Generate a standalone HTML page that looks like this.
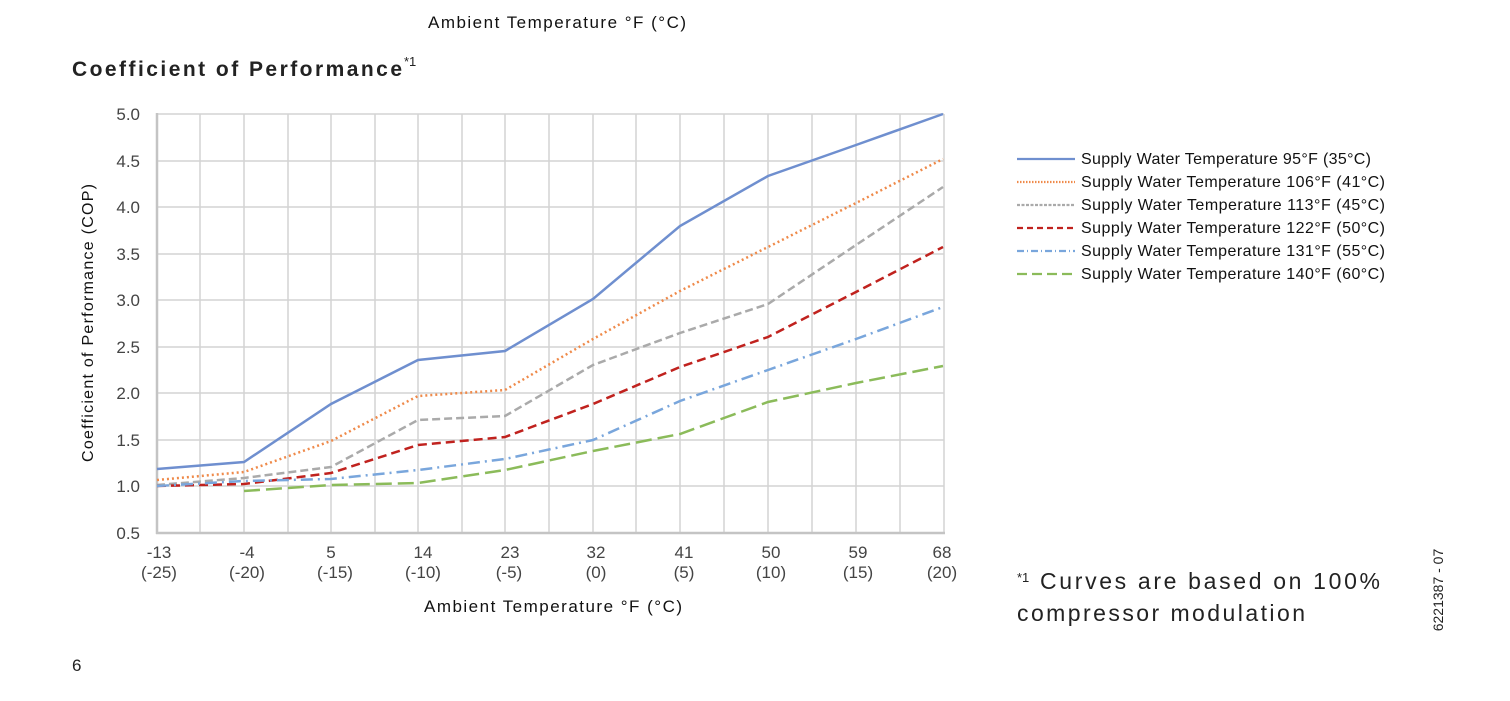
<!DOCTYPE html>
<html><head><meta charset="utf-8"><style>
body{margin:0;background:#fff;width:1510px;height:696px;overflow:hidden;font-family:"Liberation Sans",sans-serif;}
svg text{font-family:"Liberation Sans",sans-serif;}
</style></head><body>
<svg width="1510" height="696" xmlns="http://www.w3.org/2000/svg">
<text x="428" y="28" font-size="17" textLength="258" fill="#111">Ambient Temperature °F (°C)</text>
<text x="72" y="76" font-size="21" font-weight="bold" fill="#222" textLength="330">Coefficient of Performance</text>
<text x="404" y="66" font-size="13" fill="#222">*1</text>
<g stroke="#d4d4d4" stroke-width="1.5">
<line x1="157" y1="114" x2="944" y2="114"/><line x1="157" y1="161" x2="944" y2="161"/><line x1="157" y1="207" x2="944" y2="207"/><line x1="157" y1="254" x2="944" y2="254"/><line x1="157" y1="300" x2="944" y2="300"/><line x1="157" y1="347" x2="944" y2="347"/><line x1="157" y1="393" x2="944" y2="393"/><line x1="157" y1="440" x2="944" y2="440"/><line x1="157" y1="486" x2="944" y2="486"/>
<line x1="200" y1="114" x2="200" y2="533"/><line x1="244" y1="114" x2="244" y2="533"/><line x1="288" y1="114" x2="288" y2="533"/><line x1="331" y1="114" x2="331" y2="533"/><line x1="375" y1="114" x2="375" y2="533"/><line x1="418" y1="114" x2="418" y2="533"/><line x1="462" y1="114" x2="462" y2="533"/><line x1="505" y1="114" x2="505" y2="533"/><line x1="549" y1="114" x2="549" y2="533"/><line x1="593" y1="114" x2="593" y2="533"/><line x1="636" y1="114" x2="636" y2="533"/><line x1="680" y1="114" x2="680" y2="533"/><line x1="724" y1="114" x2="724" y2="533"/><line x1="768" y1="114" x2="768" y2="533"/><line x1="812" y1="114" x2="812" y2="533"/><line x1="856" y1="114" x2="856" y2="533"/><line x1="900" y1="114" x2="900" y2="533"/><line x1="944" y1="114" x2="944" y2="533"/>
</g>
<g stroke="#c4c4c4" stroke-width="2.5"><line x1="157" y1="113" x2="157" y2="534"/><line x1="156" y1="533" x2="945" y2="533"/></g>
<g font-size="17" fill="#444" text-anchor="end">
<text x="140" y="120">5.0</text><text x="140" y="167">4.5</text><text x="140" y="213">4.0</text><text x="140" y="260">3.5</text><text x="140" y="306">3.0</text><text x="140" y="353">2.5</text><text x="140" y="399">2.0</text><text x="140" y="446">1.5</text><text x="140" y="492">1.0</text><text x="140" y="539">0.5</text>
</g>
<g font-size="17" fill="#444" text-anchor="middle">
<text x="159" y="558">-13</text><text x="159" y="578">(-25)</text>
<text x="247" y="558">-4</text><text x="247" y="578">(-20)</text>
<text x="331" y="558">5</text><text x="335" y="578">(-15)</text>
<text x="423" y="558">14</text><text x="423" y="578">(-10)</text>
<text x="510" y="558">23</text><text x="509" y="578">(-5)</text>
<text x="596" y="558">32</text><text x="596" y="578">(0)</text>
<text x="684" y="558">41</text><text x="684" y="578">(5)</text>
<text x="771" y="558">50</text><text x="771" y="578">(10)</text>
<text x="858" y="558">59</text><text x="858" y="578">(15)</text>
<text x="942" y="558">68</text><text x="942" y="578">(20)</text>
</g>
<text x="424" y="612" font-size="17" textLength="258" fill="#111">Ambient Temperature °F (°C)</text>
<text transform="translate(93,323) rotate(-90)" font-size="16" text-anchor="middle" fill="#111" textLength="278">Coefficient of Performance (COP)</text>
<g fill="none" stroke-width="2.5">
<polyline stroke="#6f8fcf" points="157,469 244,462 331,404 418,360 505,351 593,299 680,226 768,176 856,145 943,114"/>
<polyline stroke="#ef8a4a" stroke-dasharray="2 3" points="157,480 244,472 331,441 418,396 505,390 593,339 680,291 768,247 856,203 943,159"/>
<polyline stroke="#aaaaaa" stroke-dasharray="8 4" points="157,485 244,478 331,467 418,420 505,416 593,365 680,333 768,304 856,245 943,187"/>
<polyline stroke="#c0221e" stroke-dasharray="9 5" points="157,486 244,484 331,473 418,445 505,437 593,404 680,367 768,337 856,292 943,247"/>
<polyline stroke="#79a6dc" stroke-dasharray="12 5 2 5" points="157,486 244,481 331,479 418,470 505,459 593,440 680,401 768,370 856,339 943,307"/>
<polyline stroke="#8bbb5a" stroke-dasharray="16 6" points="244,491 331,485 418,483 505,470 593,451 680,434 768,402 856,383 943,366"/>
</g>
<g fill="none" stroke-width="2.2">
<line x1="1017" y1="159" x2="1075" y2="159" stroke="#6f8fcf"/>
<line x1="1017" y1="182" x2="1075" y2="182" stroke="#ef8a4a" stroke-dasharray="1.5 1.5"/>
<line x1="1017" y1="205" x2="1075" y2="205" stroke="#aaaaaa" stroke-dasharray="3 1.5"/>
<line x1="1017" y1="228" x2="1075" y2="228" stroke="#c0221e" stroke-dasharray="6 4"/>
<line x1="1017" y1="251" x2="1075" y2="251" stroke="#79a6dc" stroke-dasharray="7 3 1 3"/>
<line x1="1017" y1="274" x2="1075" y2="274" stroke="#8bbb5a" stroke-dasharray="10 5"/>
</g>
<g font-size="16" fill="#111">
<text x="1081" y="164" textLength="290">Supply Water Temperature 95°F (35°C)</text>
<text x="1081" y="187" textLength="304">Supply Water Temperature 106°F (41°C)</text>
<text x="1081" y="210" textLength="304">Supply Water Temperature 113°F (45°C)</text>
<text x="1081" y="233" textLength="304">Supply Water Temperature 122°F (50°C)</text>
<text x="1081" y="256" textLength="304">Supply Water Temperature 131°F (55°C)</text>
<text x="1081" y="279" textLength="304">Supply Water Temperature 140°F (60°C)</text>
</g>
<text x="1017" y="582" font-size="13" fill="#222">*1</text>
<text x="1040" y="589" font-size="23" fill="#222" textLength="340">Curves are based on 100%</text>
<text x="1017" y="621" font-size="23" fill="#222" textLength="288">compressor modulation</text>
<text transform="translate(1443,590) rotate(-90)" font-size="14" text-anchor="middle" fill="#222">6221387 - 07</text>
<text x="72" y="671" font-size="17" fill="#222">6</text>
</svg>
</body></html>
